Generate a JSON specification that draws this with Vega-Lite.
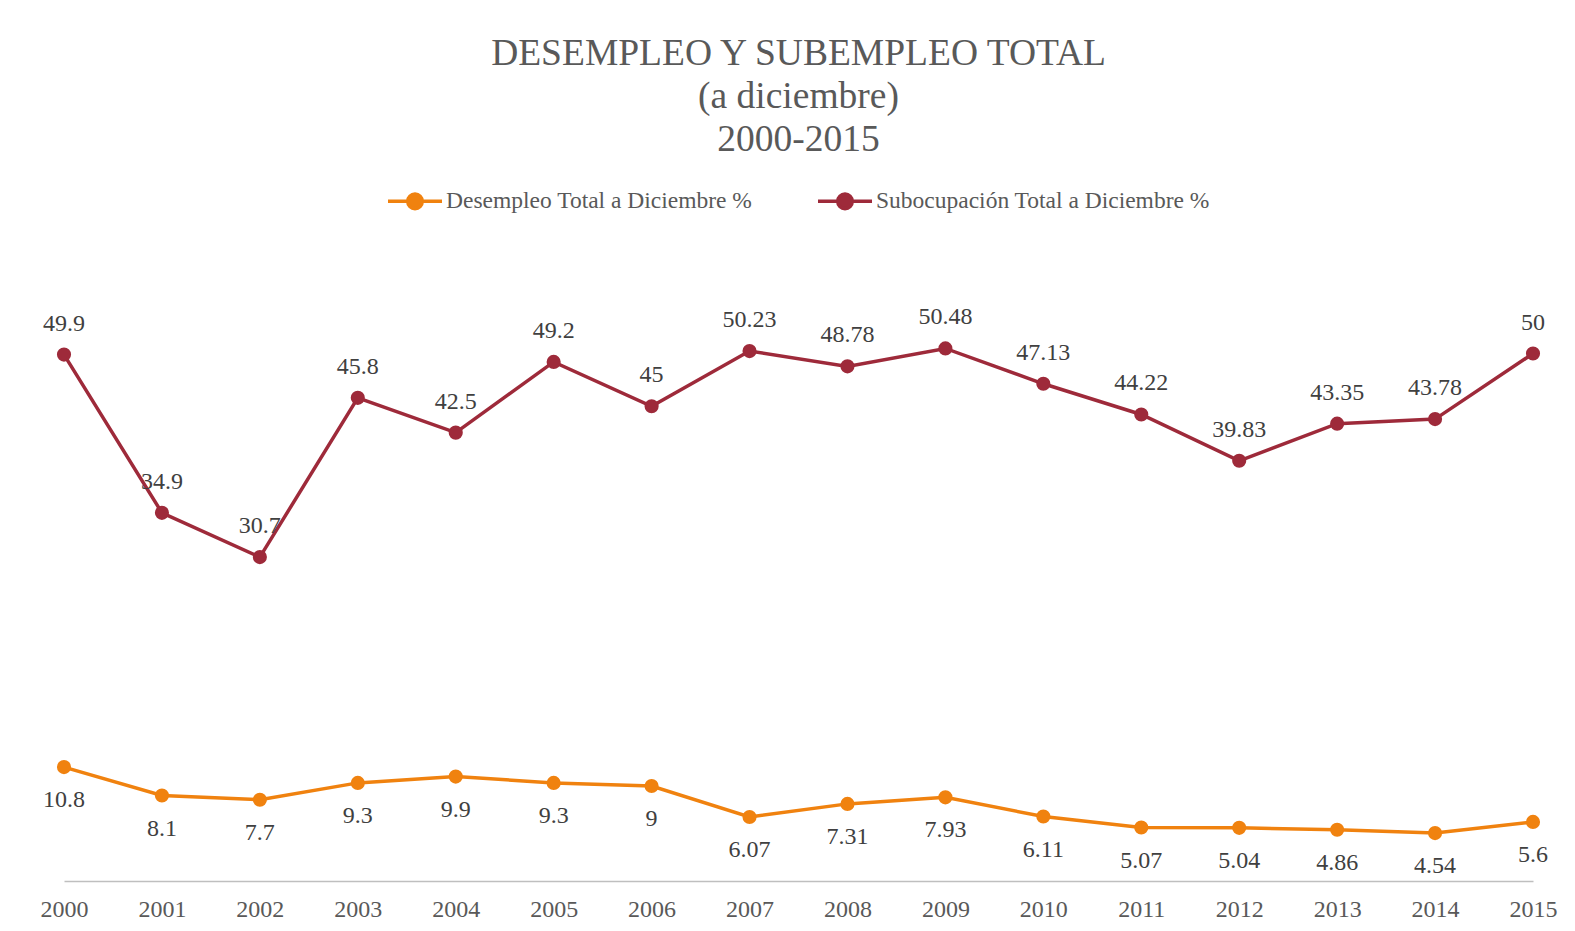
{
  "$schema": "https://vega.github.io/schema/vega-lite/v6.json",
  "autosize": {"type": "none"},
  "width": 1469,
  "height": 633,
  "padding": {"left": 64, "top": 248, "right": 42, "bottom": 50},
  "background": "white",
  "config": {
    "view": {"stroke": null},
    "font": "'Liberation Serif', 'Times New Roman', Times, serif"
  },
  "title": {
    "text": ["DESEMPLEO Y SUBEMPLEO TOTAL", "(a diciembre)", "2000-2015"],
    "anchor": "middle",
    "frame": "group",
    "font": "'Liberation Serif', 'Times New Roman', Times, serif",
    "fontSize": 37.5,
    "fontWeight": "normal",
    "color": "#595959",
    "lineHeight": 43,
    "offset": 14
  },
  "data": {
    "values": [
      {"year": "2000", "serie": "Desempleo Total a Diciembre %", "valor": 10.8},
      {"year": "2001", "serie": "Desempleo Total a Diciembre %", "valor": 8.1},
      {"year": "2002", "serie": "Desempleo Total a Diciembre %", "valor": 7.7},
      {"year": "2003", "serie": "Desempleo Total a Diciembre %", "valor": 9.3},
      {"year": "2004", "serie": "Desempleo Total a Diciembre %", "valor": 9.9},
      {"year": "2005", "serie": "Desempleo Total a Diciembre %", "valor": 9.3},
      {"year": "2006", "serie": "Desempleo Total a Diciembre %", "valor": 9},
      {"year": "2007", "serie": "Desempleo Total a Diciembre %", "valor": 6.07},
      {"year": "2008", "serie": "Desempleo Total a Diciembre %", "valor": 7.31},
      {"year": "2009", "serie": "Desempleo Total a Diciembre %", "valor": 7.93},
      {"year": "2010", "serie": "Desempleo Total a Diciembre %", "valor": 6.11},
      {"year": "2011", "serie": "Desempleo Total a Diciembre %", "valor": 5.07},
      {"year": "2012", "serie": "Desempleo Total a Diciembre %", "valor": 5.04},
      {"year": "2013", "serie": "Desempleo Total a Diciembre %", "valor": 4.86},
      {"year": "2014", "serie": "Desempleo Total a Diciembre %", "valor": 4.54},
      {"year": "2015", "serie": "Desempleo Total a Diciembre %", "valor": 5.6},
      {"year": "2000", "serie": "Subocupación Total a Diciembre %", "valor": 49.9},
      {"year": "2001", "serie": "Subocupación Total a Diciembre %", "valor": 34.9},
      {"year": "2002", "serie": "Subocupación Total a Diciembre %", "valor": 30.7},
      {"year": "2003", "serie": "Subocupación Total a Diciembre %", "valor": 45.8},
      {"year": "2004", "serie": "Subocupación Total a Diciembre %", "valor": 42.5},
      {"year": "2005", "serie": "Subocupación Total a Diciembre %", "valor": 49.2},
      {"year": "2006", "serie": "Subocupación Total a Diciembre %", "valor": 45},
      {"year": "2007", "serie": "Subocupación Total a Diciembre %", "valor": 50.23},
      {"year": "2008", "serie": "Subocupación Total a Diciembre %", "valor": 48.78},
      {"year": "2009", "serie": "Subocupación Total a Diciembre %", "valor": 50.48},
      {"year": "2010", "serie": "Subocupación Total a Diciembre %", "valor": 47.13},
      {"year": "2011", "serie": "Subocupación Total a Diciembre %", "valor": 44.22},
      {"year": "2012", "serie": "Subocupación Total a Diciembre %", "valor": 39.83},
      {"year": "2013", "serie": "Subocupación Total a Diciembre %", "valor": 43.35},
      {"year": "2014", "serie": "Subocupación Total a Diciembre %", "valor": 43.78},
      {"year": "2015", "serie": "Subocupación Total a Diciembre %", "valor": 50}
    ]
  },
  "encoding": {
    "x": {
      "field": "year",
      "type": "ordinal",
      "scale": {"type": "point", "padding": 0},
      "axis": {
        "title": null,
        "labelAngle": 0,
        "labelFont": "'Liberation Serif', 'Times New Roman', Times, serif",
        "labelFontSize": 24,
        "labelColor": "#595959",
        "labelPadding": 16,
        "ticks": false,
        "domainColor": "#BFBFBF",
        "domainWidth": 1.5,
        "grid": false
      }
    },
    "y": {
      "field": "valor",
      "type": "quantitative",
      "scale": {"domain": [0, 60], "nice": false, "zero": true},
      "axis": null
    },
    "color": {
      "field": "serie",
      "type": "nominal",
      "scale": {
        "domain": ["Desempleo Total a Diciembre %", "Subocupación Total a Diciembre %"],
        "range": ["#F0820F", "#9E2A3A"]
      },
      "legend": {
        "orient": "none",
        "direction": "horizontal",
        "legendX": 322,
        "legendY": -76,
        "title": null,
        "padding": 0,
        "symbolType": "M-1,0H1M-0.27,0a0.27,0.27 0 1,0 0.54,0a0.27,0.27 0 1,0 -0.54,0Z",
        "symbolSize": 2916,
        "symbolStrokeWidth": 3.5,
        "symbolFillColor": null,
        "labelFont": "'Liberation Serif', 'Times New Roman', Times, serif",
        "labelFontSize": 23.5,
        "labelColor": "#595959",
        "labelOffset": 2,
        "columnPadding": 58,
        "labelLimit": 0
      }
    }
  },
  "layer": [
    {
      "mark": {"type": "line", "strokeWidth": 3.5}
    },
    {
      "mark": {"type": "point", "filled": true, "size": 200, "opacity": 1}
    },
    {
      "transform": [{"filter": "datum.serie === 'Subocupación Total a Diciembre %'"}],
      "mark": {"type": "text", "dy": -31, "baseline": "middle", "align": "center", "font": "'Liberation Serif', 'Times New Roman', Times, serif", "fontSize": 24},
      "encoding": {
        "text": {"field": "valor", "type": "quantitative"},
        "color": {"value": "#404040"}
      }
    },
    {
      "transform": [{"filter": "datum.serie === 'Desempleo Total a Diciembre %'"}],
      "mark": {"type": "text", "dy": 33, "baseline": "middle", "align": "center", "font": "'Liberation Serif', 'Times New Roman', Times, serif", "fontSize": 24},
      "encoding": {
        "text": {"field": "valor", "type": "quantitative"},
        "color": {"value": "#404040"}
      }
    }
  ]
}
